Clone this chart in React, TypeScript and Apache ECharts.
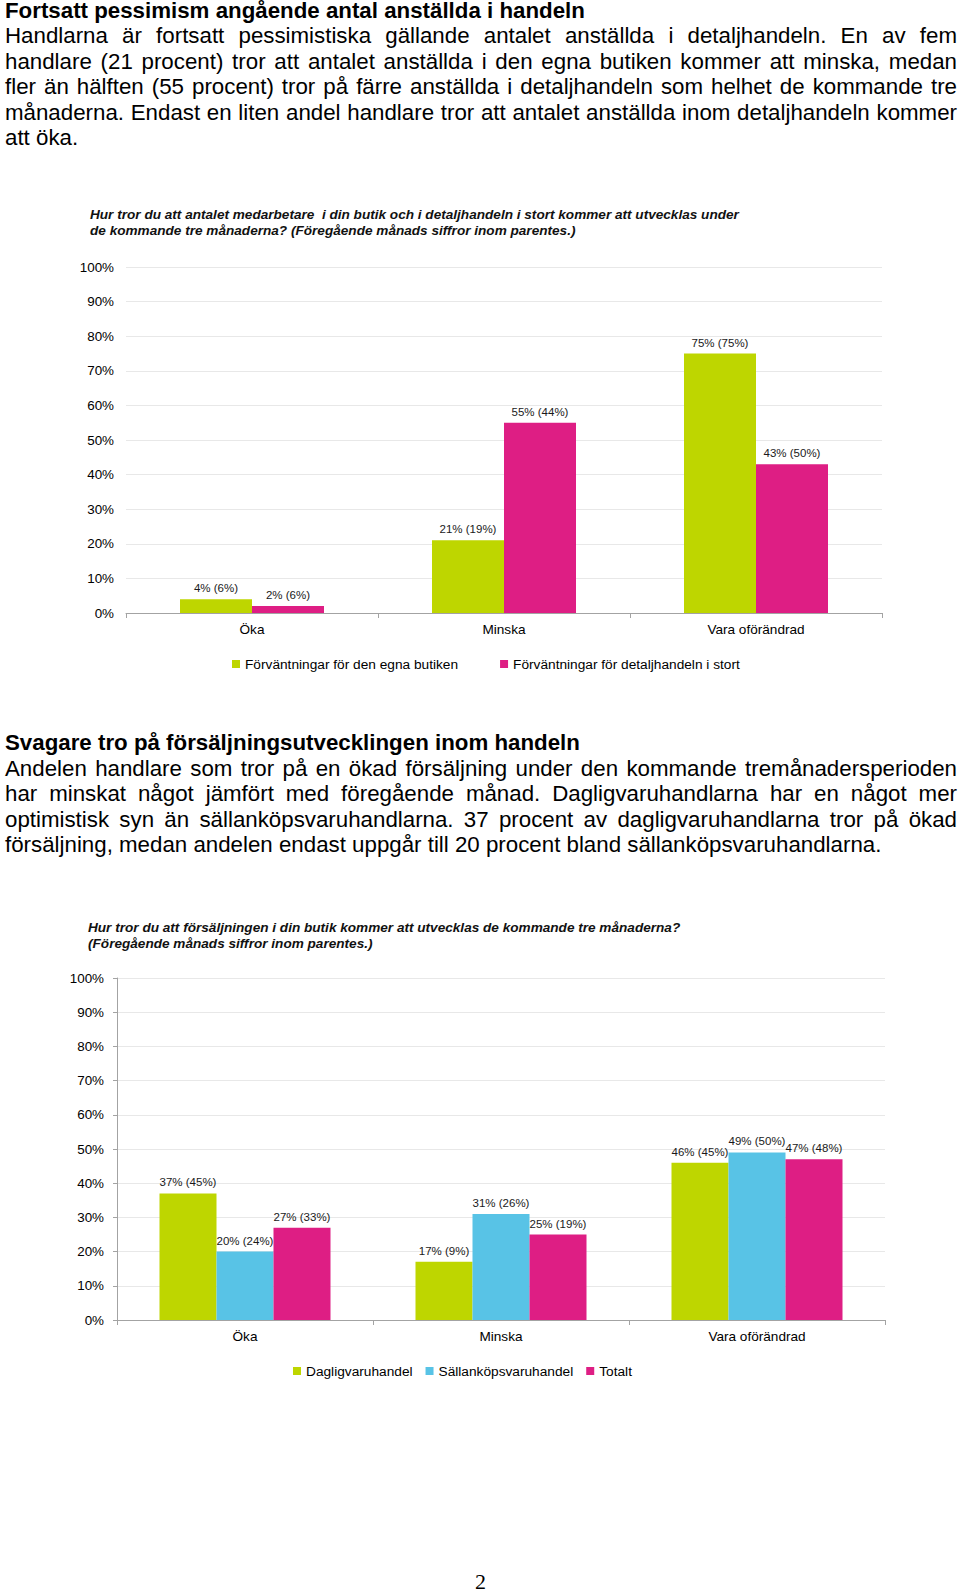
import React, { useEffect, useRef } from "react";
import * as echarts from "echarts";

// ---------- Data ----------
const categories = ["Öka", "Minska", "Vara oförändrad"];

// Chart 1: antal medarbetare
const staffSeriesNames = [
  "Förväntningar för den egna butiken",
  "Förväntningar för detaljhandeln i stort",
];
const staffOwnStore = [4, 21, 75];
const staffOwnStorePrev = [6, 19, 75];
const staffRetail = [2, 55, 43];
const staffRetailPrev = [6, 44, 50];

// Chart 2: försäljning
const salesSeriesNames = ["Dagligvaruhandel", "Sällanköpsvaruhandel", "Totalt"];
const salesDaily = [37, 17, 46];
const salesDailyPrev = [45, 9, 45];
const salesDurable = [20, 31, 49];
const salesDurablePrev = [24, 26, 50];
const salesTotal = [27, 25, 47];
const salesTotalPrev = [33, 19, 48];

const chart1Title =
  "Hur tror du att antalet medarbetare  i din butik och i detaljhandeln i stort kommer att utvecklas under\nde kommande tre månaderna? (Föregående månads siffror inom parentes.)";
const chart2Title =
  "Hur tror du att försäljningen i din butik kommer att utvecklas de kommande tre månaderna?\n(Föregående månads siffror inom parentes.)";

const para1Heading = "Fortsatt pessimism angående antal anställda i handeln";
const para1Lines = [
  "Handlarna är fortsatt pessimistiska gällande antalet anställda i detaljhandeln. En av fem",
  "handlare (21 procent) tror att antalet anställda i den egna butiken kommer att minska, medan",
  "fler än hälften (55 procent) tror på färre anställda i detaljhandeln som helhet de kommande tre",
  "månaderna. Endast en liten andel handlare tror att antalet anställda inom detaljhandeln kommer",
];
const para1Last = "att öka.";

const para2Heading = "Svagare tro på försäljningsutvecklingen inom handeln";
const para2Lines = [
  "Andelen handlare som tror på en ökad försäljning under den kommande tremånadersperioden",
  "har minskat något jämfört med föregående månad. Dagligvaruhandlarna har en något mer",
  "optimistisk syn än sällanköpsvaruhandlarna. 37 procent av dagligvaruhandlarna tror på ökad",
];
const para2Last =
  "försäljning, medan andelen endast uppgår till 20 procent bland sällanköpsvaruhandlarna.";

const pageNumber = "2";

// ---------- Styles ----------
const GREEN = "#BED600";
const BLUE = "#58C3E6";
const PINK = "#DE1E84";
const AXIS = "#A3A3A3";
const GRID = "#E8E8E8";
const FONT = "'Liberation Sans', Arial, sans-serif";

const pct = (prev: number[]) => (p: any) => `${p.value}% (${prev[p.dataIndex]}%)`;

const barLabel = (prev: number[]) => ({
  show: true,
  position: "top" as const,
  distance: 5,
  fontSize: 11.5,
  color: "#1a1a1a",
  fontFamily: FONT,
  formatter: pct(prev),
});

const titleStyle = {
  fontSize: 13.6,
  fontWeight: "bold",
  fontStyle: "italic",
  color: "#111",
  lineHeight: 16.5,
  fontFamily: FONT,
};

export default function App() {
  const ref = useRef<HTMLDivElement>(null);

  useEffect(() => {
    document.body.style.margin = "0";
    if (!ref.current) return;
    const chart = echarts.init(ref.current, undefined, { renderer: "svg" });
    const option: any = {
      animation: false,
      backgroundColor: "transparent",
      textStyle: { fontFamily: FONT },
      title: [
        { text: chart1Title, left: 90, top: 206, padding: 0, textStyle: titleStyle },
        { text: chart2Title, left: 88, top: 919, padding: 0, textStyle: titleStyle },
      ],
      legend: [
        {
          data: staffSeriesNames,
          left: 232,
          top: 657,
          padding: 0,
          icon: "rect",
          itemWidth: 8,
          itemHeight: 8,
          itemGap: 42,
          textStyle: { fontSize: 13.7, color: "#000", fontFamily: FONT },
        },
        {
          data: salesSeriesNames,
          left: 293,
          top: 1364,
          padding: 0,
          icon: "rect",
          itemWidth: 8,
          itemHeight: 8,
          itemGap: 13,
          textStyle: { fontSize: 13.7, color: "#000", fontFamily: FONT },
        },
      ],
      grid: [
        { left: 126, top: 267, width: 756, height: 346, containLabel: false },
        { left: 117, top: 978, width: 768, height: 342, containLabel: false },
      ],
      xAxis: [
        {
          type: "category",
          gridIndex: 0,
          data: categories,
          axisLine: { show: true, lineStyle: { color: AXIS, width: 1 } },
          axisTick: { show: true, length: 5, interval: 0, lineStyle: { color: AXIS } },
          axisLabel: { fontSize: 13.6, color: "#000", margin: 9, fontFamily: FONT },
        },
        {
          type: "category",
          gridIndex: 1,
          data: categories,
          axisLine: { show: true, lineStyle: { color: AXIS, width: 1 } },
          axisTick: { show: true, length: 5, interval: 0, lineStyle: { color: AXIS } },
          axisLabel: { fontSize: 13.6, color: "#000", margin: 9, fontFamily: FONT },
        },
      ],
      yAxis: [
        {
          type: "value",
          gridIndex: 0,
          min: 0,
          max: 100,
          interval: 10,
          axisLine: { show: false },
          axisTick: { show: false },
          splitLine: { show: true, lineStyle: { color: GRID, width: 1 } },
          axisLabel: {
            formatter: "{value}%",
            fontSize: 13.4,
            color: "#000",
            margin: 12,
            fontFamily: FONT,
          },
        },
        {
          type: "value",
          gridIndex: 1,
          min: 0,
          max: 100,
          interval: 10,
          axisLine: { show: true, lineStyle: { color: AXIS, width: 1 } },
          axisTick: { show: true, length: 4, lineStyle: { color: AXIS } },
          splitLine: { show: true, lineStyle: { color: GRID, width: 1 } },
          axisLabel: {
            formatter: "{value}%",
            fontSize: 13.4,
            color: "#000",
            margin: 13,
            fontFamily: FONT,
          },
        },
      ],
      series: [
        {
          name: staffSeriesNames[0],
          type: "bar",
          xAxisIndex: 0,
          yAxisIndex: 0,
          data: staffOwnStore,
          barWidth: 72,
          barGap: "0%",
          itemStyle: { color: GREEN },
          label: barLabel(staffOwnStorePrev),
        },
        {
          name: staffSeriesNames[1],
          type: "bar",
          xAxisIndex: 0,
          yAxisIndex: 0,
          data: staffRetail,
          barWidth: 72,
          barGap: "0%",
          itemStyle: { color: PINK },
          label: barLabel(staffRetailPrev),
        },
        {
          name: salesSeriesNames[0],
          type: "bar",
          xAxisIndex: 1,
          yAxisIndex: 1,
          data: salesDaily,
          barWidth: 57,
          barGap: "0%",
          itemStyle: { color: GREEN },
          label: barLabel(salesDailyPrev),
        },
        {
          name: salesSeriesNames[1],
          type: "bar",
          xAxisIndex: 1,
          yAxisIndex: 1,
          data: salesDurable,
          barWidth: 57,
          barGap: "0%",
          itemStyle: { color: BLUE },
          label: barLabel(salesDurablePrev),
        },
        {
          name: salesSeriesNames[2],
          type: "bar",
          xAxisIndex: 1,
          yAxisIndex: 1,
          data: salesTotal,
          barWidth: 57,
          barGap: "0%",
          itemStyle: { color: PINK },
          label: barLabel(salesTotalPrev),
        },
      ],
    };
    chart.setOption(option);
    return () => chart.dispose();
  }, []);

  const textBase: React.CSSProperties = {
    position: "absolute",
    left: 5,
    width: 952,
    fontFamily: FONT,
    fontSize: 22.3,
    lineHeight: "25.5px",
    color: "#000",
    zIndex: 2,
  };
  const justLine: React.CSSProperties = {
    textAlign: "justify",
    textAlignLast: "justify" as any,
    whiteSpace: "nowrap",
  };
  const plainLine: React.CSSProperties = { whiteSpace: "nowrap" };

  return (
    <div style={{ position: "absolute", left: 0, top: 0, width: 960, height: 1593, background: "#fff" }}>
      <div ref={ref} style={{ position: "absolute", left: 0, top: 0, width: 960, height: 1593, zIndex: 1 }} />
      <div style={{ ...textBase, top: -2.5 }}>
        <div style={{ ...plainLine, fontWeight: "bold" }}>{para1Heading}</div>
        {para1Lines.map((l, i) => (
          <div key={i} style={justLine}>{l}</div>
        ))}
        <div style={plainLine}>{para1Last}</div>
      </div>
      <div style={{ ...textBase, top: 730 }}>
        <div style={{ ...plainLine, fontWeight: "bold" }}>{para2Heading}</div>
        {para2Lines.map((l, i) => (
          <div key={i} style={justLine}>{l}</div>
        ))}
        <div style={plainLine}>{para2Last}</div>
      </div>
      <div
        style={{
          position: "absolute",
          left: 460,
          top: 1571,
          width: 41,
          textAlign: "center",
          fontFamily: "'Liberation Serif', 'Times New Roman', serif",
          fontSize: 22,
          lineHeight: "22px",
          color: "#000",
          zIndex: 2,
        }}
      >
        {pageNumber}
      </div>
    </div>
  );
}
